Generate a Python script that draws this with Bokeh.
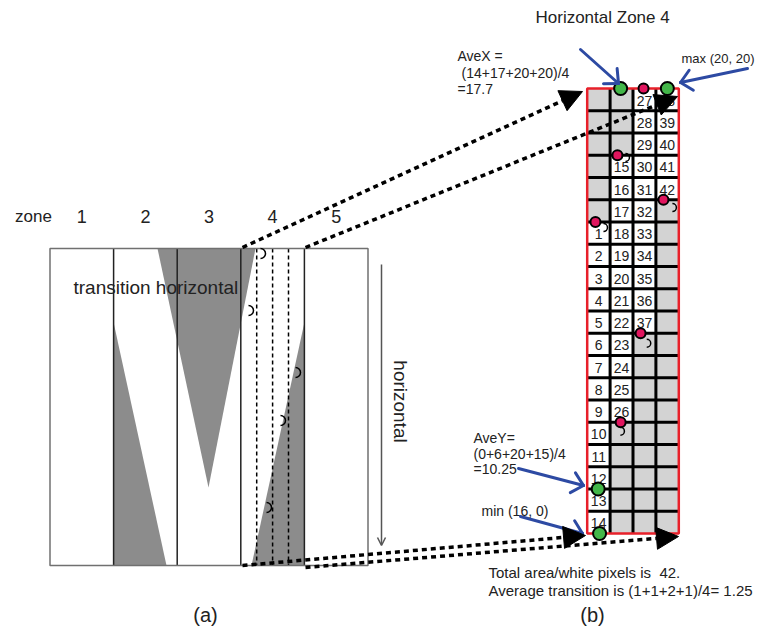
import numpy as np
from bokeh.plotting import figure
from bokeh.models import Range1d, Arrow, NormalHead, OpenHead, ColumnDataSource
from bokeh.core.properties import value
from bokeh.embed import file_html
from bokeh.resources import INLINE

# ---------------- data ----------------
zone_labels = ["1", "2", "3", "4", "5"]
n_rows = 20
n_cols = 4
white_first_row = [7, 4, 1, 1]     # first white row (1-based, from top) per column
white_last_row = [20, 15, 11, 5]   # last white row per column
green_col = [1.46, 3.5, 0.48, 0.54]
green_row = [0, 0, 18, 20]
pink_col = [2.46, 1.32, 3.33, 0.36, 2.33, 1.46]
pink_row = [0, 3, 5, 6, 11, 15]
turn_col = [1.67, 3.72, 0.71, 2.6, 1.45]
turn_row = [3.1, 5.35, 6.25, 11.45, 15.4]
avex_terms = [14, 17, 20, 20]
avey_terms = [0, 6, 20, 15]
trans_terms = [1, 1, 2, 1]

FONT = value("Liberation Sans")
TXT = "#222222"
BLUE = "#2d4aa3"

p = figure(width=760, height=628, x_range=Range1d(0, 760), y_range=Range1d(628, 0),
           output_backend="svg", toolbar_location=None,
           x_axis_location=None, y_axis_location=None, min_border=0)
p.grid.visible = False
p.outline_line_color = None
p.background_fill_color = "white"

# ---------------- left panel (a) ----------------
LX0, ZW, BT, BB = 49.5, 63.6, 248, 565
zone_x = [LX0 + i * ZW for i in range(6)]
p.quad(left=LX0, right=zone_x[5], top=BT, bottom=BB, fill_color="white", line_color=None)
p.patches(xs=[[157, 255, 208], [zone_x[1], zone_x[1], 166], [zone_x[4], zone_x[4], 251]],
          ys=[[BT, BT, 487], [322, BB, BB], [322, BB, BB]],
          fill_color="#8c8c8c", line_color=None)
sub_x = [zone_x[3] + k * ZW / 4 for k in range(1, 4)]
p.segment(x0=sub_x, y0=BT, x1=sub_x, y1=BB, line_color="black", line_width=1.5, line_dash="4 3")
p.segment(x0=zone_x[1:5], y0=BT, x1=zone_x[1:5], y1=BB, line_color="#222222", line_width=1.5)
p.quad(left=LX0, right=zone_x[5], top=BT, bottom=BB, fill_color=None, line_color="#707070", line_width=1.5)

p.text(x=[LX0 + ZW * (i + 0.5) for i in range(5)], y=[216] * 5, text=zone_labels,
       text_font=FONT, text_font_size="18px", text_align="center", text_baseline="middle", text_color=TXT)
p.text(x=[33], y=[216], text=["zone"], text_font=FONT, text_font_size="17px",
       text_align="center", text_baseline="middle", text_color=TXT)
p.text(x=[73], y=[287], text=["transition horizontal"], text_font=FONT, text_font_size="19px",
       text_align="left", text_baseline="middle", text_color=TXT)
p.text(x=[400], y=[401], text=["horizontal"], angle=-np.pi / 2, text_font=FONT, text_font_size="19px",
       text_align="center", text_baseline="middle", text_color=TXT)
p.add_layout(Arrow(end=OpenHead(size=8, line_color="#555555", line_width=1.5),
                   x_start=381, y_start=264, x_end=381, y_end=545,
                   line_color="#555555", line_width=1.5))

lx = [260, 248, 295, 280, 266]
ly = [253, 310, 372, 420, 507]
p.arc(x=lx, y=ly, radius=5, start_angle=-np.pi / 2, end_angle=np.pi / 2, line_color="black", line_width=1.5)

# ---------------- right panel (b) ----------------
GX0, CW, GY0, RH = 586.7, 22.9, 88.0, 22.25
GX1, GY1 = GX0 + n_cols * CW, GY0 + n_rows * RH
L, R, T, B, C, NX, NY, NT = [], [], [], [], [], [], [], []
num = 0
for c in range(n_cols):
    for r in range(n_rows):
        L.append(GX0 + c * CW); R.append(GX0 + (c + 1) * CW)
        T.append(GY0 + r * RH); B.append(GY0 + (r + 1) * RH)
        white = white_first_row[c] <= r + 1 <= white_last_row[c]
        C.append("white" if white else "#d3d3d3")
        if white:
            num += 1
            NX.append(GX0 + (c + 0.5) * CW); NY.append(GY0 + (r + 0.55) * RH); NT.append(str(num))
p.quad(left=L, right=R, top=T, bottom=B, fill_color=C, line_color=None)
vx = [GX0 + c * CW for c in range(1, n_cols)]
hy = [GY0 + r * RH for r in range(1, n_rows)]
p.segment(x0=vx, y0=GY0, x1=vx, y1=GY1, line_color="black", line_width=3)
p.segment(x0=GX0, y0=hy, x1=GX1, y1=hy, line_color="black", line_width=3)
p.quad(left=GX0, right=GX1, top=GY0, bottom=GY1, fill_color=None, line_color="#e8202a", line_width=2.5)
p.text(x=NX, y=NY, text=NT, text_font=FONT, text_font_size="14px", text_align="center",
       text_baseline="middle", text_color=TXT)

tx = [GX0 + v * CW for v in turn_col]
ty = [GY0 + v * RH for v in turn_row]
p.arc(x=tx, y=ty, radius=4, start_angle=-np.pi / 2, end_angle=np.pi / 2, line_color="black", line_width=1.5)

p.scatter(x=[GX0 + v * CW for v in pink_col], y=[GY0 + v * RH for v in pink_row], size=10,
          fill_color="#e0155e", line_color="black", line_width=2)
p.scatter(x=[GX0 + v * CW for v in green_col], y=[GY0 + v * RH for v in green_row], size=13,
          fill_color="#43b649", line_color="black", line_width=2)

# dotted zoom arrows
dsrc = ColumnDataSource(dict(x0=[242, 305, 242, 305], y0=[247, 247, 565, 567],
                             x1=[582, 677, 585, 678], y1=[91, 96, 535, 536]))
p.add_layout(Arrow(end=NormalHead(size=22, fill_color="black", line_color="black", line_width=1),
                   source=dsrc, x_start="x0", y_start="y0", x_end="x1", y_end="y1",
                   line_color="black", line_width=3.5, line_dash="5 4"))

# blue pointer arrows (open heads)
bx0 = np.array([580, 747, 518, 520.0]); by0 = np.array([49, 68, 468, 516.0])
bx1 = np.array([618, 680, 583, 582.0]); by1 = np.array([83, 82, 485, 533.0])
p.segment(x0=bx0, y0=by0, x1=bx1, y1=by1, line_color=BLUE, line_width=3, line_cap="round")
ang = np.arctan2(by0 - by1, bx0 - bx1)
hl = 15
for da in (0.75, -0.75):
    p.segment(x0=bx1, y0=by1, x1=bx1 + hl * np.cos(ang + da), y1=by1 + hl * np.sin(ang + da),
              line_color=BLUE, line_width=3, line_cap="round")

def label(x, y, t, size="14px", align="left"):
    p.text(x=[x], y=[y], text=[t], text_font=FONT, text_font_size=size, text_align=align,
           text_baseline="middle", text_color=TXT)

label(535, 17, "Horizontal Zone 4", "17px")
label(457, 55, "AveX =")
label(461, 72, "(" + "+".join(str(v) for v in avex_terms) + ")/4")
label(457, 88, "=17.7")
label(681, 58, "max (20, 20)", "13px")
label(473, 437, "AveY=")
label(473, 453, "(" + "+".join(str(v) for v in avey_terms) + ")/4")
label(473, 468, "=10.25")
label(481, 510, "min (16, 0)")
label(488, 572, "Total area/white pixels is \u00a042.", "15px")
label(488, 590, "Average transition is (" + "+".join(str(v) for v in trans_terms) + ")/4= 1.25", "15px")
label(205, 614, "(a)", "20px", "center")
label(592, 614, "(b)", "20px", "center")

open("out.html", "w").write(file_html(p, INLINE))
